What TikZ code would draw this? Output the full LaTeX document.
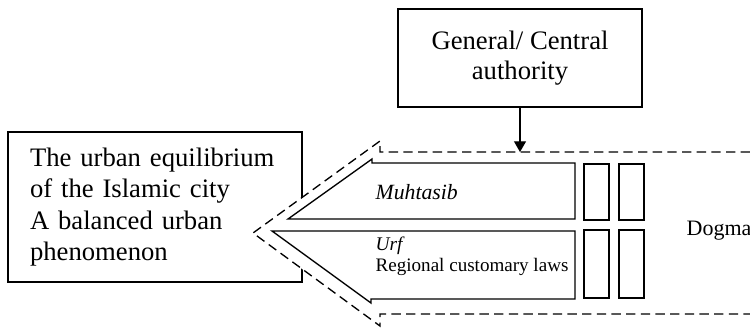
\documentclass[tikz,border=0pt]{standalone}
\usepackage{fontspec}
\setmainfont{Liberation Serif}
\usetikzlibrary{positioning,arrows.meta}

\begin{document}
\begin{tikzpicture}[
    x=0.75pt, y=-0.75pt,
    line width=1pt,
    box/.style={rectangle, draw=black, fill=white, align=center, font=\fontsize{20}{22.5}\selectfont},
    dashline/.style={dash pattern=on 7pt off 4pt, line width=1pt},
    lbl/.style={anchor=base west, inner sep=0pt, font=\fontsize{14.3}{16}\selectfont},
    arrow/.style={-{Triangle[length=8pt,width=9pt]}, line width=0.8pt}
  ]
  \useasboundingbox (0,0) rectangle (750,333);
  % Nodes
  \node[box, minimum width=183pt, minimum height=73.5pt] (authority) at (520,58) {General/ Central\\authority};
  \node[box, text width=187.5pt, inner xsep=16.5pt, minimum height=112.5pt, align=left,
        font=\fontsize{20}{23.6}\selectfont] (city) at (155,207)
        {The urban equilibrium\\of the Islamic city\\A balanced urban\\phenomenon};
  % Dashed outer chevron
  \fill[white] (750,152) -- (380,152) -- (380,141) -- (253,233) -- (380,326) -- (380,314) -- (750,314) -- cycle;
  \draw[dashline] (750,152) -- (380,152) -- (380,141) -- (253,233) -- (380,326) -- (380,314) -- (750,314);
  % Inner arrows
  \draw (575,163) -- (372,163) -- (372,159) -- (288,219) -- (575,219) -- cycle;
  \draw (575,231) -- (272,231) -- (371,303) -- (371,299) -- (575,299) -- cycle;
  \foreach \x in {584,619} {
    \draw (\x,164) rectangle ++(25,56);
    \draw (\x,230) rectangle ++(25,68);
  }
  % Labels
  \node[lbl, font=\itshape\fontsize{16.3}{18}\selectfont] (muhtasib) at (375,199) {Muhtasib};
  \node[lbl, font=\itshape\fontsize{14.5}{16}\selectfont] (urf) at (375,250) {Urf};
  \node[lbl] (customary) at (375,271) {Regional customary laws};
  \node[lbl, font=\fontsize{16.5}{18}\selectfont] (dogma) at (686,235) {Dogma};
  % Arrows
  \coordinate (entry) at (520,152);
  \draw[arrow] (authority) -- (entry);
\end{tikzpicture}
\end{document}
